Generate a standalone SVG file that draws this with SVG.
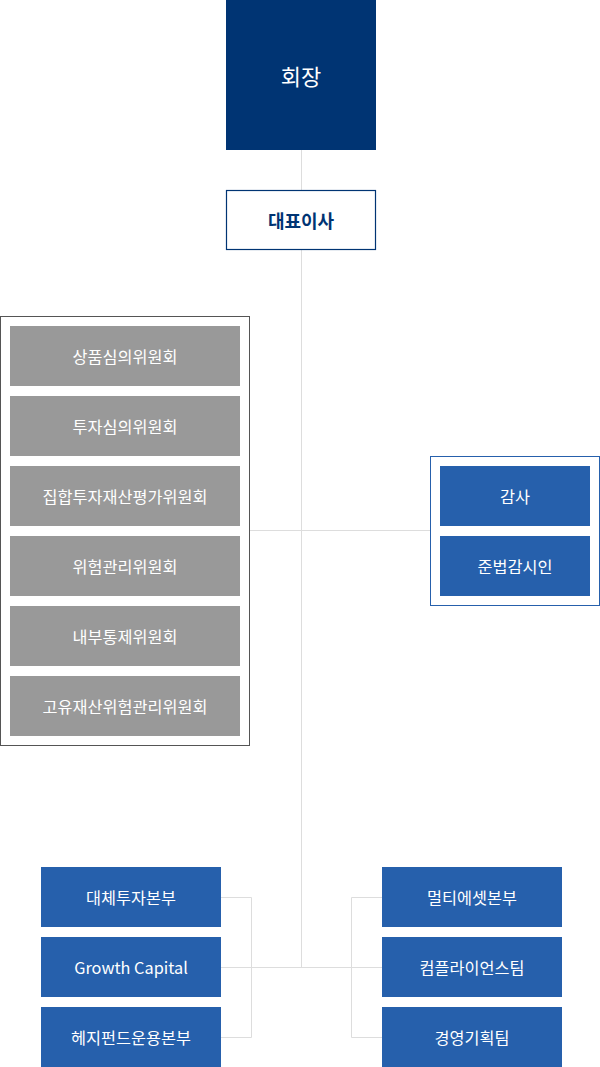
<svg xmlns="http://www.w3.org/2000/svg" width="600" height="1067" viewBox="0 0 600 1067">
<style>
text{font-family:"Noto Sans CJK KR","Noto Sans",sans-serif;text-anchor:middle;dominant-baseline:central;}
.w{fill:#fff;font-size:16.3px;}
.grey{fill:#999999;}
.blue{fill:#2660ac;}
.ln{stroke:#dddddd;stroke-width:1;fill:none;}
</style>
<g id="connectors">
<path class="ln" d="M301.5 150V967M250 530.5H430M221 967.5H382M221 897.5H251.5V1037.5H221M382 897.5H351.5V1037.5H382"/>
</g>
<g id="chairman"><rect x="226" y="0" width="150" height="150" fill="#003473"/><text x="301" y="75" fill="#fff" font-size="22">회장</text></g>
<g id="ceo"><rect x="226.5" y="190.5" width="149" height="59" fill="#fff" stroke="#003473" stroke-width="1.2"/><text x="301" y="220" fill="#003473" font-size="18" font-weight="bold">대표이사</text></g>
<g id="committees">
<rect x="0.5" y="316.5" width="249" height="429" fill="#fff" stroke="#555" stroke-width="1"/>
<g id="c1"><rect class="grey" x="10" y="326" width="230" height="60"/><text class="w" x="125" y="356">상품심의위원회</text></g>
<g id="c2"><rect class="grey" x="10" y="396" width="230" height="60"/><text class="w" x="125" y="426">투자심의위원회</text></g>
<g id="c3"><rect class="grey" x="10" y="466" width="230" height="60"/><text class="w" x="125" y="496">집합투자재산평가위원회</text></g>
<g id="c4"><rect class="grey" x="10" y="536" width="230" height="60"/><text class="w" x="125" y="566">위험관리위원회</text></g>
<g id="c5"><rect class="grey" x="10" y="606" width="230" height="60"/><text class="w" x="125" y="636">내부통제위원회</text></g>
<g id="c6"><rect class="grey" x="10" y="676" width="230" height="60"/><text class="w" x="125" y="706">고유재산위험관리위원회</text></g>
</g>
<g id="audit">
<rect x="430.5" y="456.5" width="169" height="149" fill="#fff" stroke="#2660ac" stroke-width="1"/>
<g id="a1"><rect class="blue" x="440" y="466" width="150" height="60"/><text class="w" x="515" y="496">감사</text></g>
<g id="a2"><rect class="blue" x="440" y="536" width="150" height="60"/><text class="w" x="515" y="566">준법감시인</text></g>
</g>
<g id="d1"><rect class="blue" x="41" y="867" width="180" height="60"/><text class="w" x="131" y="897">대체투자본부</text></g>
<g id="d2"><rect class="blue" x="41" y="937" width="180" height="60"/><text class="w" x="131" y="967">Growth Capital</text></g>
<g id="d3"><rect class="blue" x="41" y="1007" width="180" height="60"/><text class="w" x="131" y="1037">헤지펀드운용본부</text></g>
<g id="d4"><rect class="blue" x="382" y="867" width="180" height="60"/><text class="w" x="472" y="897">멀티에셋본부</text></g>
<g id="d5"><rect class="blue" x="382" y="937" width="180" height="60"/><text class="w" x="472" y="967">컴플라이언스팀</text></g>
<g id="d6"><rect class="blue" x="382" y="1007" width="180" height="60"/><text class="w" x="472" y="1037">경영기획팀</text></g>
</svg>
